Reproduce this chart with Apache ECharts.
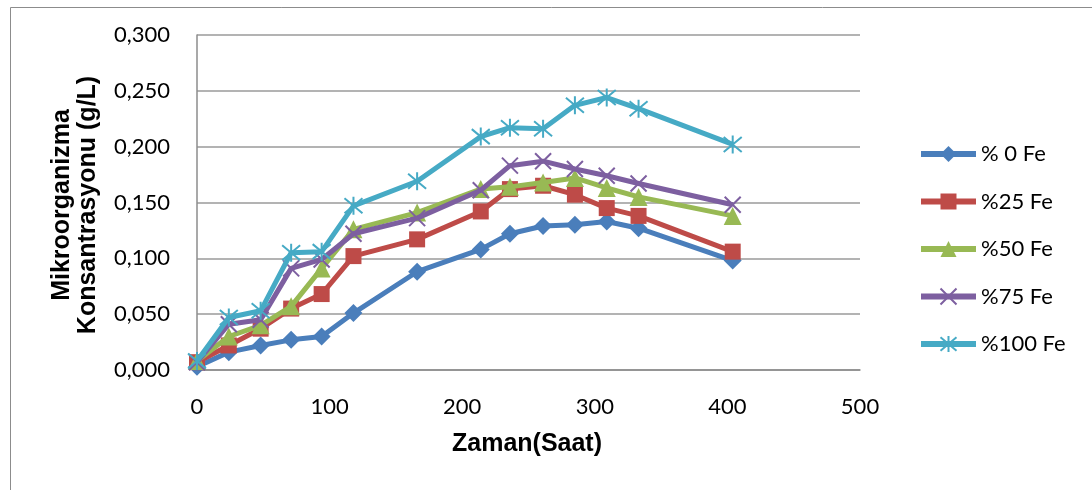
<!DOCTYPE html>
<html>
<head>
<meta charset="utf-8">
<script src="https://cdn.jsdelivr.net/npm/echarts@6/dist/echarts.min.js"></script>
<style>
html,body{margin:0;padding:0;background:#fff;}
#chart{width:1092px;height:490px;}
</style>
</head>
<body>
<div id="chart"></div>
<script>
const hours = [0, 24, 48, 71, 94, 118, 166, 214, 236, 261, 285, 309, 333, 404];
const seriesNames = ['% 0 Fe', '%25 Fe', '%50 Fe', '%75 Fe', '%100 Fe'];
const fe0   = [0.003, 0.016, 0.022, 0.027, 0.030, 0.051, 0.088, 0.108, 0.122, 0.129, 0.130, 0.133, 0.127, 0.098];
const fe25  = [0.007, 0.022, 0.037, 0.055, 0.068, 0.102, 0.117, 0.142, 0.162, 0.165, 0.157, 0.145, 0.138, 0.106];
const fe50  = [0.008, 0.030, 0.040, 0.057, 0.091, 0.126, 0.141, 0.162, 0.164, 0.168, 0.172, 0.163, 0.155, 0.138];
const fe75  = [0.007, 0.041, 0.045, 0.091, 0.099, 0.122, 0.136, 0.161, 0.183, 0.187, 0.180, 0.174, 0.167, 0.148];
const fe100 = [0.008, 0.047, 0.053, 0.105, 0.106, 0.147, 0.169, 0.209, 0.217, 0.216, 0.237, 0.244, 0.234, 0.202];
const xTicks = [0, 100, 200, 300, 400, 500];
const yTicks = [0, 0.05, 0.10, 0.15, 0.20, 0.25, 0.30];

const allValues = [fe0, fe25, fe50, fe75, fe100];
const colors = ['#4A7EBB', '#BE4B48', '#98B954', '#7D5FA0', '#46AAC5'];
const symbols = [
  'diamond',
  'rect',
  'triangle',
  'path://M0 0 L10 10 M10 0 L0 10',
  'path://M0 0 L10 10 M10 0 L0 10 M5 -1 L5 11'
];
const sizes = [18, 16, 18, 16, 18];
const borders = [0, 0, 0, 2, 2];

const chart = echarts.init(document.getElementById('chart'), null, {renderer: 'canvas'});
const series = seriesNames.map((name, i) => ({
  name: name,
  type: 'line',
  data: hours.map((h, j) => [h, allValues[i][j]]),
  symbol: symbols[i],
  symbolSize: sizes[i],
  showAllSymbol: true,
  lineStyle: {color: colors[i], width: 5},
  itemStyle: {color: colors[i], borderColor: colors[i], borderWidth: borders[i]},
  emphasis: {disabled: true},
  z: 2 + i
}));

chart.setOption({
  animation: false,
  backgroundColor: '#ffffff',
  grid: {left: 197, right: 232, top: 35, bottom: 120, containLabel: false},
  xAxis: {
    type: 'value',
    min: xTicks[0],
    max: xTicks[xTicks.length - 1],
    interval: 100,
    axisLine: {show: true, lineStyle: {color: '#8c8c8c', width: 1.5}},
    axisTick: {show: false},
    splitLine: {show: false},
    axisLabel: {fontFamily: 'Lato', fontSize: 22, color: '#000', margin: 26}
  },
  yAxis: {
    type: 'value',
    min: yTicks[0],
    max: yTicks[yTicks.length - 1],
    interval: 0.05,
    axisLine: {show: true, lineStyle: {color: '#8c8c8c', width: 1.5}},
    axisTick: {show: false},
    splitLine: {show: true, lineStyle: {color: '#9a9a9a', width: 1.5}},
    axisLabel: {
      fontFamily: 'Lato', fontSize: 22, color: '#000', margin: 27,
      formatter: v => v.toFixed(3).replace('.', ',')
    }
  },
  legend: {
    orient: 'vertical',
    left: 913,
    top: 137,
    itemWidth: 55,
    itemHeight: 20,
    itemGap: 23.5,
    lineStyle: {width: 6},
    textStyle: {fontFamily: 'Lato', fontSize: 22, color: '#000', lineHeight: 24},
    data: seriesNames
  },
  graphic: [
    {type: 'rect', left: 8, top: 5, silent: true, z: -10,
     shape: {width: 1100, height: 500}, style: {fill: 'none', stroke: '#8c8c8c', lineWidth: 1}},
    {type: 'text', x: 527, y: 444, silent: true,
     style: {text: 'Zaman(Saat)', font: 'bold 25px "Liberation Sans", Arial, sans-serif',
             fill: '#000', align: 'center', verticalAlign: 'middle'}},
    {type: 'text', x: 75, y: 205, rotation: Math.PI / 2, silent: true,
     style: {text: 'Mikroorganizma\nKonsantrasyonu (g/L)', font: 'bold 25px "Liberation Sans", Arial, sans-serif',
             lineHeight: 26, fill: '#000', align: 'center', verticalAlign: 'middle'}}
  ],
  series: series
});
</script>
</body>
</html>
